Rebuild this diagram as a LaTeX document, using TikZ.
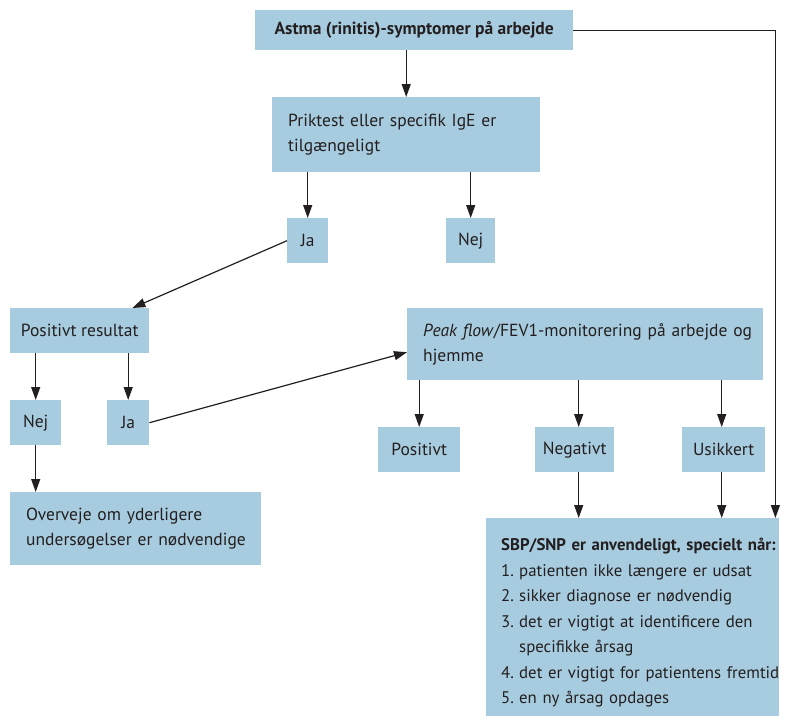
\documentclass[tikz,border=0pt]{standalone}
\usepackage{fontspec}
\setmainfont{PT Sans}
\usetikzlibrary{arrows.meta}
\definecolor{boxblue}{RGB}{168,204,223}
\definecolor{ink}{RGB}{35,31,32}
\newcommand{\itemno}[2]{\mbox{\makebox[18pt][l]{#1}#2}}
\begin{document}
\begin{tikzpicture}[x=1pt,y=-1pt]
      \useasboundingbox (0,0) rectangle (791,718);

      \begin{scope}[every node/.style={rectangle, fill=boxblue, text=ink, anchor=north west,
          inner xsep=16pt, inner ysep=0pt, font=\fontsize{17.5}{24.5}\selectfont}]
        \node[minimum width=318pt, minimum height=40pt, inner xsep=2pt] (1) at (255,10) {\textbf{Astma (rinitis)-symptomer på arbejde}};
        \node[minimum height=75pt, text width=236pt, align=left] (2) at (272,97) {Priktest eller specifik IgE er\\tilgængeligt};
        \node[minimum width=41pt, minimum height=45pt, inner xsep=2pt] (3) at (287,218) {Ja};
        \node[minimum width=49pt, minimum height=45pt, inner xsep=2pt] (4) at (446,218) {Nej};
        \node[minimum width=139pt, minimum height=45pt, inner xsep=2pt] (5) at (10,308) {Positivt resultat};
        \node[minimum width=51pt, minimum height=45pt, inner xsep=2pt] (6) at (10,400) {Nej};
        \node[minimum width=42pt, minimum height=45pt, inner xsep=2pt] (7) at (107,400) {Ja};
        \node[minimum height=73pt, text width=219pt, align=left] (8) at (10,492) {Overveje om yderligere\\\mbox{undersøgelser er nødvendige}};
        \node[minimum height=72pt, text width=324pt, align=left] (9) at (407,308) {\mbox{\textit{Peak flow}/FEV1-monitorering på arbejde og}\\hjemme};
        \node[minimum width=82pt, minimum height=45pt, inner xsep=2pt] (10) at (378,427) {Positivt};
        \node[minimum width=79pt, minimum height=45pt, inner xsep=2pt] (11) at (535,427) {Negativt};
        \node[minimum width=83pt, minimum height=45pt, inner xsep=2pt] (12) at (682,427) {Usikkert};
        \node[minimum height=198pt, text width=263pt, inner xsep=15pt, align=left,
            font=\fontsize{16.8}{25.5}\selectfont] (13) at (486,518) {%
          \rule{0pt}{24pt}\mbox{\textbf{SBP/SNP er anvendeligt, specielt når:}}\\
          \itemno{1.}{patienten ikke længere er udsat}\\
          \itemno{2.}{sikker diagnose er nødvendig}\\
          \itemno{3.}{det er vigtigt at identificere den}\\
          \itemno{}{specifikke årsag}\\
          \itemno{4.}{det er vigtigt for patientens fremtid}\\
          \itemno{5.}{en ny årsag opdages}};
      \end{scope}

      \begin{scope}[every path/.style={draw=ink, line width=1.2pt, -{Triangle[length=13pt,width=9pt]}}]
        \path (1.south -| 2.north) -- (2.north);
        \path (2.south -| 3.north) -- (3.north);
        \path (2.south -| 4.north) -- (4.north);
        \path (3.west) -- ([xshift=-17pt]5.north east);
        \path (5.south -| 6.north) -- (6.north);
        \path (5.south -| 7.north) -- (7.north);
        \path (6.south) -- (6.south |- 8.north);
        \path (7.east) -- ([yshift=-8pt]9.west);
        \path (9.south -| 10.north) -- (10.north);
        \path ([xshift=4pt]9.south -| 11.north) -- ([xshift=4pt]11.north);
        \path ([xshift=-2pt]9.south -| 12.north) -- ([xshift=-2pt]12.north);
        \path ([xshift=4pt]11.south) -- ([xshift=4pt]11.south |- 13.north);
        \path ([xshift=-2pt]12.south) -- ([xshift=-2pt]12.south |- 13.north);
        \path (1.east) -| ([xshift=-4pt]13.north east);
      \end{scope}

    \end{tikzpicture}
\end{document}
